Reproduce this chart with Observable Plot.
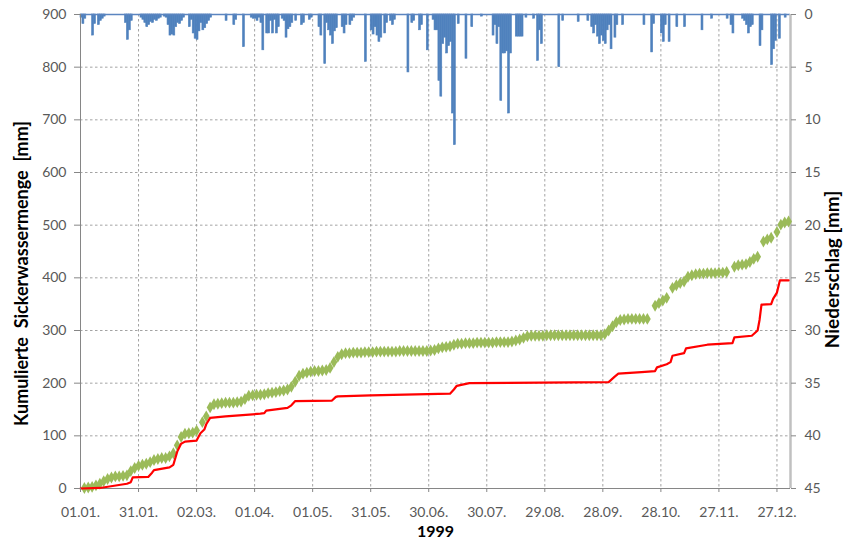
<!DOCTYPE html>
<html><head><meta charset="utf-8">
<script src="https://cdn.jsdelivr.net/npm/d3@7"></script>
<script src="https://cdn.jsdelivr.net/npm/@observablehq/plot@0.6"></script>
<style>
body{margin:0;background:#fff;}
#chart{width:848px;height:539px;}
</style></head><body><div id="chart"></div>
<script>
// ---- tick definitions ----
const tickDays = [0,30,60,90,120,150,180,210,240,270,300,330,360];
const tickLabels = ["01.01.","31.01.","02.03.","01.04.","01.05.","31.05.","30.06.","30.07.","29.08.","28.09.","28.10.","27.11.","27.12."];
const leftTicks = [0,100,200,300,400,500,600,700,800,900];
const rightTicks = [0,5,10,15,20,25,30,35,40,45];
const xTitle = "1999";
const leftTitle = "Kumulierte  Sickerwassermenge  [mm]";
const rightTitle = "Niederschlag [mm]";

// ---- precipitation (day of year, mm) ----
const precipDays = [0,1,2,6,7,9,10,11,12,23,24,25,26,31,32,33,34,35,36,37,38,39,40,41,43,44,45,46,47,48,49,50,51,52,53,56,57,58,59,60,61,62,63,64,65,66,67,75,79,80,84,88,89,90,91,92,93,94,96,97,98,99,100,101,102,104,105,106,107,108,109,111,114,115,118,119,123,124,126,127,128,129,130,131,132,135,136,137,139,140,141,147,150,151,152,153,154,155,157,158,160,161,162,169,171,172,175,176,179,182,183,184,185,186,187,188,189,190,191,192,193,195,199,202,207,213,214,215,216,217,218,219,220,221,222,225,226,227,228,230,234,236,237,238,247,249,257,262,264,265,266,267,268,269,270,271,272,273,274,276,277,280,291,295,296,300,301,302,304,308,312,321,326,334,336,337,342,343,344,345,346,347,351,352,357,358,359,361,364];
const precipMm = [0.3,0.9,0.4,2.0,0.9,1.0,0.6,0.4,0.2,0.8,2.4,1.5,0.6,0.3,0.5,0.8,1.2,1.0,0.7,0.8,0.5,0.6,0.4,0.3,0.2,0.3,1.0,2.0,1.9,2.0,1.2,0.8,0.9,0.6,0.3,1.2,0.5,1.8,2.3,2.4,1.6,0.8,1.5,1.3,0.9,0.6,0.3,0.6,1.0,0.5,3.1,0.3,0.4,0.4,0.6,0.3,0.8,3.4,1.8,1.8,0.6,1.8,0.5,1.8,1.2,0.4,0.6,2.2,1.4,1.2,0.8,0.6,1.0,0.8,0.5,0.3,1.2,2.0,4.7,0.8,1.5,2.0,2.8,1.6,1.3,1.2,1.8,1.0,1.0,0.6,0.3,4.5,1.5,1.9,1.2,2.0,2.6,2.2,1.8,0.8,0.6,1.0,0.5,5.5,0.8,0.6,1.5,1.0,3.4,0.5,1.5,1.5,6.3,7.8,2.8,2.2,3.7,3.0,2.6,9.4,12.4,0.9,4.2,1.2,0.2,2.0,1.0,2.8,1.2,8.2,3.7,3.7,3.5,9.4,3.7,2.1,2.1,2.1,2.1,0.3,0.4,4.4,1.5,2.8,5.0,0.6,0.7,0.6,1.2,1.8,1.0,2.1,2.8,2.0,2.5,2.8,1.5,1.0,3.3,2.2,1.0,1.0,1.0,3.6,0.9,1.8,2.6,1.0,2.6,1.2,1.2,1.5,0.4,0.4,1.0,1.8,0.4,0.6,1.0,1.8,1.2,1.0,3.0,1.5,4.8,3.3,2.5,2.3,0.3];

// ---- cumulative seepage, red series (breakpoints: day, mm) ----
const redDays = [0,10,24,26,27,35,37,38,46,48,50,52,54,60,62,64,65,67,75,93,95,96,107,109,111,130,132,133,150,191,193,194.5,201,273,276,278,290,297,298,303,305,306,312,313,324,337,338,347,350,351,352,357,358,360,361.5,366];
const redValues = [0,1,9,12,21,22,30,35,40,45,70,85,89,91,105,112,122,134,137,142,143,148,153,158,166,167,174,175,177,180,188,195,200,202,212,218,221,223,230,236,240,252,257,266,273,276,287,290,300,320,349,350,360,372,395,395];

// ---- cumulative seepage, green series (day, mm) ----
const greenDays = [2,4,6,8,10,12,14,16,18,20,22,24,26,28,30,32,34,36,38,40,42,44,46,48,50,52,54,56,58,60,63,65,67,69,71,73,75,77,79,81,83,85,87,89,91,93,95,97,99,101,103,105,107,109,111,113,115,117,119,121,123,125,127,129,131,133,135,137,139,141,143,145,147,149,151,153,155,157,159,161,163,165,167,169,171,173,175,177,179,181,183,185,187,189,191,193,195,197,199,201,203,205,207,209,211,213,215,217,219,221,223,225,227,229,231,233,235,237,239,241,243,245,247,249,251,253,255,257,259,261,263,265,267,269,271,273,275,277,279,281,283,285,287,289,291,293,297,299,301,303,306,308,310,312,314,316,318,320,322,324,326,328,330,332,334,338,340,342,344,346,348,350,353,355,357,360,362,364,366];
const greenValues = [1,2,3,6,9,14,18,21,23,23,24,25,33,39,43,45,47,50,54,56,58,58,61,67,82,98,104,105,106,110,126,137,154,160,161,162,163,163,163,164,165,170,176,177,178,178,179,181,182,183,185,186,188,193,203,214,218,220,222,223,223,224,225,229,240,250,255,257,257,258,258,258,259,259,259,260,260,260,260,260,260,261,261,261,261,261,261,261,261,262,263,266,268,269,270,273,275,275,276,276,276,277,277,277,277,277,278,278,278,278,279,281,283,286,289,290,290,290,290,291,291,291,291,291,291,291,291,291,291,291,291,291,291,291,293,300,308,316,320,321,322,322,322,322,322,322,347,352,357,362,381,386,390,393,402,405,407,408,408,409,409,409,410,410,411,421,424,425,426,430,436,440,469,473,476,487,501,505,507];

// ---- build tables ----
const Y_MAX = 900, R_MAX = 45;
const toLeft = mm => Y_MAX - mm * Y_MAX / R_MAX;
const precip = precipDays.map((d, i) => ({day: d, mm: precipMm[i]}));
const red = redDays.map((d, i) => ({day: d, value: redValues[i]}));
const green = greenDays.map((d, i) => ({day: d, value: greenValues[i]}));
const rightTickPos = rightTicks.map(toLeft);

const gridColor = "#a3a3a3";
const axisColor = "#868686";
const barColor = "#4f81bd";

const chart = Plot.plot({
  width: 848, height: 539,
  marginLeft: 80, marginRight: 58, marginTop: 14, marginBottom: 51,
  style: {fontFamily: "Lato, sans-serif", fontSize: "14px", color: "#595959", background: "#fff"},
  x: {domain: [0, 367]},
  y: {domain: [0, 900]},
  marks: [
    Plot.ruleX(tickDays.slice(1), {stroke: gridColor, strokeDasharray: "2.5,2.5"}),
    Plot.ruleY(leftTicks.slice(1, -1), {stroke: gridColor, strokeDasharray: "2.5,2.5"}),
    Plot.rect(precip, {x1: d => d.day, x2: d => d.day + 1, y1: Y_MAX, y2: d => toLeft(d.mm), fill: barColor, stroke: barColor, strokeWidth: 0.6}),
    Plot.ruleY([Y_MAX], {stroke: "#5b85c0", strokeWidth: 1.5}),
    Plot.ruleX([0], {stroke: axisColor}),
    Plot.ruleY([0], {stroke: axisColor}),
    Plot.ruleX([367], {stroke: "#c0c0c0", strokeWidth: 2.5}),
    Plot.dot(green, {x: "day", y: "value", symbol: "diamond", r: 3.6, fill: "#9bbb59", stroke: "none"}),
    Plot.line(red, {x: "day", y: "value", stroke: "#ff0000", strokeWidth: 2.2, curve: "linear"}),
    Plot.axisY({anchor: "left", ticks: leftTicks, tickSize: 6, tickPadding: 8, stroke: axisColor, label: null}),
    Plot.axisY({anchor: "right", ticks: rightTickPos, tickFormat: d => String(rightTicks[rightTickPos.indexOf(d)]), tickSize: 5, tickPadding: 9, stroke: axisColor, label: null}),
    Plot.axisX({ticks: tickDays, tickFormat: d => tickLabels[tickDays.indexOf(d)], tickSize: 4, tickPadding: 15, stroke: axisColor, label: null}),
    Plot.text([leftTitle], {frameAnchor: "left", dx: -58, dy: 22, rotate: -90, textAnchor: "middle", lineAnchor: "middle", text: d => d, fontWeight: "bold", fontSize: 18, fill: "#000"}),
    Plot.text([rightTitle], {frameAnchor: "right", dx: 42, dy: 18, rotate: -90, textAnchor: "middle", lineAnchor: "middle", text: d => d, fontWeight: "bold", fontSize: 19, fill: "#000"}),
    Plot.text([xTitle], {frameAnchor: "bottom", dy: 43, textAnchor: "middle", lineAnchor: "middle", text: d => d, fontWeight: "bold", fontSize: 16, fill: "#000"})
  ]
});
document.getElementById("chart").appendChild(chart);
</script></body></html>
